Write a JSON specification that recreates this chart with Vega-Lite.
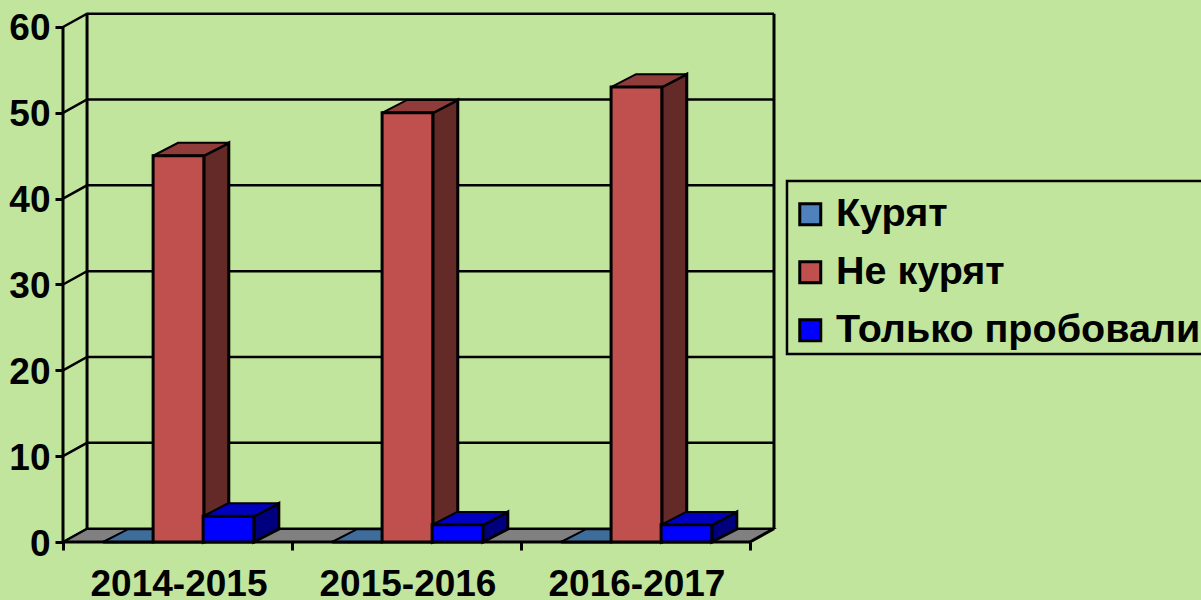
{
"$schema":"https://vega.github.io/schema/vega-lite/v6.json",
"width":711,"height":529,
"autosize":{"type":"none"},
"padding":{"left":63,"top":13,"right":427,"bottom":58},
"background":"#c1e59c",
"config":{"view":{"stroke":null},"legend":{"strokeWidth":2.5},"font":"Liberation Sans"},
"datasets":{
"bars":[
{"period":"2014-2015","series":"Курят","value":0},
{"period":"2014-2015","series":"Не курят","value":45},
{"period":"2014-2015","series":"Только пробовали","value":3},
{"period":"2015-2016","series":"Курят","value":0},
{"period":"2015-2016","series":"Не курят","value":50},
{"period":"2015-2016","series":"Только пробовали","value":2},
{"period":"2016-2017","series":"Курят","value":0},
{"period":"2016-2017","series":"Не курят","value":53},
{"period":"2016-2017","series":"Только пробовали","value":2}
],
"grid":[{"v":0},{"v":10},{"v":20},{"v":30},{"v":40},{"v":50},{"v":60}],
"one":[{"frame":1}]
},
"resolve":{"scale":{"color":"independent"}},
"layer":[
{"data":{"name":"grid"},
 "transform":[{"filter":"datum.v==0"},{"calculate":"[0,1,2,3]","as":"p"},{"flatten":["p"]},
  {"calculate":"[0,0.105,3,3.105][datum.p]","as":"fx"},
  {"calculate":"datum.p==3?1.55:0","as":"lo"},
  {"calculate":"datum.p==0?0:1.55","as":"hi"}],
 "mark":{"type":"area","orient":"vertical","fill":"#808080","stroke":"#000000","strokeWidth":1.5},
 "encoding":{
  "x":{"field":"fx","type":"quantitative","title":null,"scale":{"domain":[0,3.105],"nice":false,"zero":false},
   "axis":{"values":[0,0.5,1,1.5,2,2.5,3],"labelExpr":"datum.value%1==0?'':['2014-2015','2015-2016','2016-2017'][floor(datum.value)]",
    "tickSize":8,"tickWidth":3,"tickColor":"#000000","tickOpacity":{"condition":{"test":"datum.value%1==0","value":1},"value":0},
    "domain":false,"labelFont":"Liberation Sans","labelFontWeight":"bold","labelFontSize":37,"labelColor":"#000000","labelPadding":16,"labelOffset":1,"labelOverlap":false,"labelFlush":false,"grid":false,"zindex":1}},
  "y":{"field":"lo","type":"quantitative","title":null,"scale":{"domain":[0,61.63],"nice":false,"zero":false},
   "axis":{"values":[0,10,20,30,40,50,60],"domain":false,"tickSize":8,"tickWidth":3,"tickColor":"#000000","labelFont":"Liberation Sans","labelFontWeight":"bold","labelFontSize":37,"labelColor":"#000000","labelPadding":5,"labelOffset":2,"grid":false}},
  "y2":{"field":"hi"}
 }},
{"data":{"name":"grid"},
 "transform":[{"calculate":"[0,1,2]","as":"p"},{"flatten":["p"]},
  {"calculate":"[0,0.105,3.105][datum.p]","as":"gx"},
  {"calculate":"datum.p==0?datum.v:datum.v+1.55","as":"gy"}],
 "mark":{"type":"line","color":"#000000","strokeWidth":2.5},
 "encoding":{
  "x":{"field":"gx","type":"quantitative"},
  "y":{"field":"gy","type":"quantitative"},
  "detail":{"field":"v"},
  "order":{"field":"p"}
 }},
{"data":{"name":"one"},"mark":{"type":"rule","color":"#000000","strokeWidth":3},"encoding":{"x":{"datum":0,"type":"quantitative"},"y":{"datum":0,"type":"quantitative"},"y2":{"datum":60}}},
{"data":{"name":"one"},"mark":{"type":"rule","color":"#000000","strokeWidth":3},"encoding":{"x":{"datum":0.105,"type":"quantitative"},"y":{"datum":1.55,"type":"quantitative"},"y2":{"datum":61.55}}},
{"data":{"name":"one"},"mark":{"type":"rule","color":"#000000","strokeWidth":3},"encoding":{"x":{"datum":3.105,"type":"quantitative"},"y":{"datum":1.55,"type":"quantitative"},"y2":{"datum":61.55}}},
{"data":{"name":"one"},"mark":{"type":"rule","color":"#000000","strokeWidth":3},"encoding":{"x":{"datum":3,"type":"quantitative"},"x2":{"datum":3.105},"y":{"datum":0,"type":"quantitative"},"y2":{"datum":1.55}}},
{"data":{"name":"one"},"mark":{"type":"rule","color":"#000000","strokeWidth":3},"encoding":{"x":{"datum":0,"type":"quantitative"},"x2":{"datum":3},"y":{"datum":0,"type":"quantitative"}}},
{"data":{"name":"bars"},
 "transform":[{"filter":"datum.value>0"},
  {"calculate":"indexof(['2014-2015','2015-2016','2016-2017'],datum.period)+0.175+0.2185*indexof(['Курят','Не курят','Только пробовали'],datum.series)+0.2215","as":"x1"},
  {"calculate":"[0,1]","as":"p"},{"flatten":["p"]},
  {"calculate":"datum.x1+datum.p*0.109","as":"sx"},
  {"calculate":"datum.p*1.5","as":"lo"},
  {"calculate":"datum.value+datum.p*1.5","as":"hi"}],
 "mark":{"type":"area","orient":"vertical","stroke":"#000000","strokeWidth":3},
 "encoding":{
  "x":{"field":"sx","type":"quantitative"},
  "y":{"field":"lo","type":"quantitative"},
  "y2":{"field":"hi"},
  "detail":{"field":"period"},
  "color":{"field":"series","type":"nominal","legend":null,"scale":{"domain":["Курят","Не курят","Только пробовали"],"range":["#2a4a70","#632a28","#00007f"]}}
 }},
{"data":{"name":"bars"},
 "transform":[
  {"calculate":"indexof(['2014-2015','2015-2016','2016-2017'],datum.period)+0.175+0.2185*indexof(['Курят','Не курят','Только пробовали'],datum.series)","as":"x0"},
  {"calculate":"[0,1,2,3]","as":"p"},{"flatten":["p"]},
  {"calculate":"datum.x0+[0,0.109,0.2215,0.3305][datum.p]","as":"tx"},
  {"calculate":"datum.p==3?datum.value+1.5:datum.value","as":"lo"},
  {"calculate":"datum.p==0?datum.value:datum.value+1.5","as":"hi"}],
 "mark":{"type":"area","orient":"vertical","stroke":"#000000","strokeWidth":2},
 "encoding":{
  "x":{"field":"tx","type":"quantitative"},
  "y":{"field":"lo","type":"quantitative"},
  "y2":{"field":"hi"},
  "detail":{"field":"period"},
  "color":{"field":"series","type":"nominal","legend":null,"scale":{"domain":["Курят","Не курят","Только пробовали"],"range":["#3f6d9b","#8f3c3a","#0000bf"]}}
 }},
{"data":{"name":"bars"},
 "transform":[
  {"calculate":"indexof(['2014-2015','2015-2016','2016-2017'],datum.period)+0.175+0.2185*indexof(['Курят','Не курят','Только пробовали'],datum.series)","as":"x0"},
  {"calculate":"datum.x0+0.2215","as":"x1"}],
 "mark":{"type":"rect","stroke":"#000000","strokeWidth":3,"opacity":1},
 "encoding":{
  "x":{"field":"x0","type":"quantitative"},
  "x2":{"field":"x1"},
  "y":{"field":"value","type":"quantitative"},
  "y2":{"datum":0},
  "color":{"field":"series","type":"nominal",
   "scale":{"domain":["Курят","Не курят","Только пробовали"],"range":["#4f81bd","#c0504d","#0000ff"]},
   "legend":{"orient":"none","legendX":724,"legendY":168,"strokeColor":"#000000","padding":3.5,"title":" ","titleFontSize":6,"titlePadding":4,"symbolType":"square","symbolSize":441,"symbolStrokeColor":"#000000","symbolStrokeWidth":3,"symbolOpacity":1,"symbolOffset":0,"labelFont":"Liberation Sans","labelFontWeight":"bold","labelFontSize":39.5,"labelColor":"#000000","labelLimit":600,"labelOffset":6,"rowPadding":17}}
 }}
]
}
